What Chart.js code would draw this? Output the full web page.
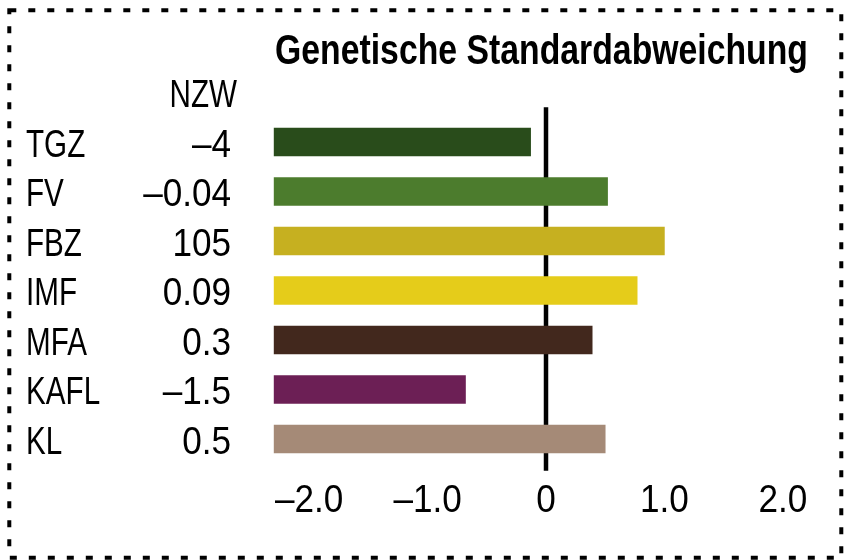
<!DOCTYPE html>
<html lang="de">
<head>
<meta charset="UTF-8">
<title>Genetische Standardabweichung</title>
<script src="https://cdn.jsdelivr.net/npm/chart.js@4"></script>
<style>
  html, body { margin: 0; padding: 0; background: #fff; }
  .wrap { position: relative; width: 844px; height: 560px; }
</style>
</head>
<body>
<div class="wrap"><canvas id="chart" width="844" height="560"></canvas></div>
<script>
// data
const categories = ['TGZ', 'FV', 'FBZ', 'IMF', 'MFA', 'KAFL', 'KL'];
const nzwValues = ['\u20134', '\u20130.04', '105', '0.09', '0.3', '\u20131.5', '0.5'];
const barStart = -2.3;
const sdValues = [-0.13, 0.52, 1.0, 0.77, 0.39, -0.68, 0.5];
const barColors = ['#294c1b', '#4c7c2d', '#c6b020', '#e5cc1a', '#42281d', '#6c1f55', '#a58a77'];
const xTicks = [-2, -1, 0, 1, 2];
const xTickLabels = ['\u20132.0', '\u20131.0', '0', '1.0', '2.0'];

const FONT = "'Liberation Sans', Arial, sans-serif";
// the original face is a condensed grotesque, squeeze letters a bit more than figures
const SQ_TEXT = 0.76;
const SQ_NUM = 0.9;

// draw text squeezed horizontally so it reads like a condensed face
function drawText(ctx, text, x, y, align, sx) {
  ctx.save();
  ctx.translate(x, y);
  ctx.scale(sx, 1);
  ctx.textAlign = align;
  ctx.textBaseline = 'alphabetic';
  ctx.fillText(text, 0, 0);
  ctx.restore();
}

// frame, title, row labels, tick labels and the zero line
const decorations = {
  id: 'decorations',
  beforeDatasetsDraw(chart) {
    const ctx = chart.ctx;
    const x0 = chart.scales.x.getPixelForValue(0);
    ctx.save();
    ctx.fillStyle = '#000';
    ctx.fillRect(x0 - 2.25, chart.chartArea.top - 10, 4.5, chart.chartArea.bottom - chart.chartArea.top + 17);
    ctx.restore();
  },
  afterDraw(chart) {
    const ctx = chart.ctx;
    const y = chart.scales.y;
    const x = chart.scales.x;
    ctx.save();

    // dotted frame
    ctx.strokeStyle = '#000';
    ctx.lineWidth = 4;
    ctx.setLineDash([7, 12]);
    ctx.strokeRect(9.3, 10.3, 832, 547.5);
    ctx.setLineDash([]);

    ctx.fillStyle = '#000';

    // title, fitted to its width in the original
    ctx.font = "bold 42px " + FONT;
    const title = 'Genetische Standardabweichung';
    const tw = ctx.measureText(title).width;
    drawText(ctx, title, 808, 64, 'right', 533 / tw);

    // column header
    ctx.font = "39px " + FONT;
    drawText(ctx, 'NZW', 237, 107, 'right', SQ_TEXT);

    // row labels + values
    categories.forEach((c, i) => {
      const yc = y.getPixelForValue(i);
      drawText(ctx, c, 26, yc + 14.5, 'left', SQ_TEXT);
      drawText(ctx, nzwValues[i], 231, yc + 14.5, 'right', SQ_NUM);
    });

    // x tick labels at the scale's own tick positions
    x.ticks.forEach((t) => {
      const label = xTickLabels[xTicks.indexOf(t.value)];
      drawText(ctx, label, x.getPixelForValue(t.value), 512, 'center', SQ_NUM);
    });
    ctx.restore();
  }
};

new Chart(document.getElementById('chart'), {
  type: 'bar',
  data: {
    labels: categories,
    datasets: [{
      data: sdValues.map(v => [barStart, v]),
      backgroundColor: barColors,
      borderWidth: 0,
      barThickness: 28
    }]
  },
  options: {
    indexAxis: 'y',
    responsive: false,
    animation: false,
    layout: { padding: { left: 273.68, right: 25.68, top: 117.25, bottom: 0 } },
    plugins: {
      legend: { display: false },
      tooltip: { enabled: false }
    },
    scales: {
      x: {
        min: -2.3,
        max: 2.3,
        grid: { display: false, drawTicks: false },
        border: { display: false },
        afterBuildTicks(scale) {
          scale.ticks = xTicks.map(v => ({ value: v }));
        },
        afterFit(scale) { scale.height = 96.25; },
        ticks: { display: false }
      },
      y: {
        display: false
      }
    }
  },
  plugins: [decorations]
});
</script>
</body>
</html>
